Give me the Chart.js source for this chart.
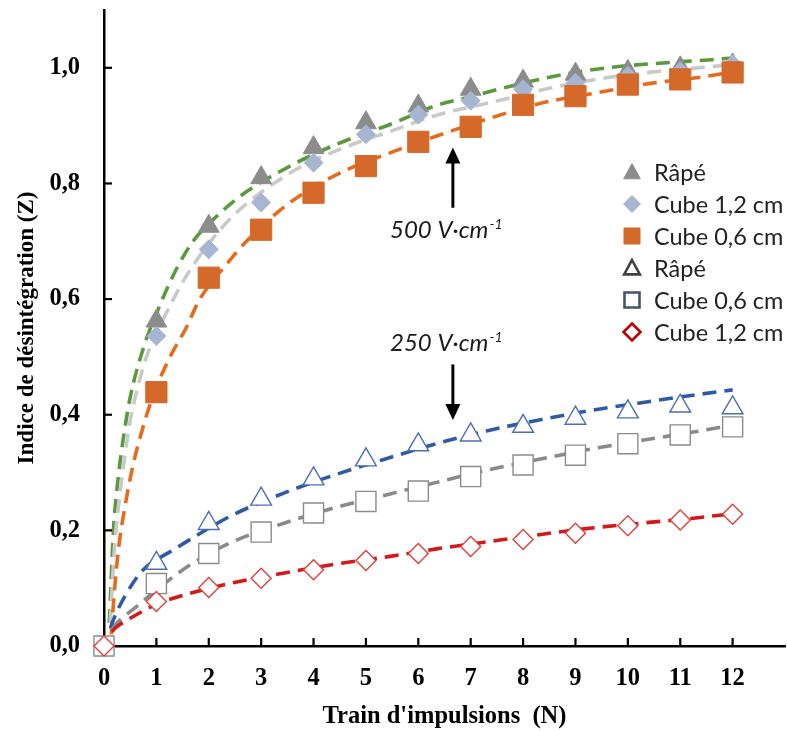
<!DOCTYPE html>
<html><head><meta charset="utf-8">
<script src="https://cdn.jsdelivr.net/npm/chart.js@4.4.1/dist/chart.umd.min.js"></script>
<style>html,body{margin:0;padding:0;background:#fff;}#wrap{width:787px;height:731px;}</style>
</head><body><div id="wrap"><canvas id="c" width="787" height="731"></canvas></div>
<script>
// ---- data ----
const N = [0,1,2,3,4,5,6,7,8,9,10,11,12];
const xTicks = [0,1,2,3,4,5,6,7,8,9,10,11,12];
const yTicks = [0,0.2,0.4,0.6,0.8,1.0];

// 500 V/cm
const rape500    = [null,0.562,0.726,0.81,0.862,0.905,0.934,0.963,0.977,0.989,0.994,1.0,1.005];
const cube12_500 = [null,0.536,0.686,0.767,0.836,0.885,0.919,0.943,0.963,0.974,0.986,0.994,1.006];
const cube06_500 = [null,0.439,0.637,0.72,0.784,0.83,0.872,0.898,0.936,0.951,0.971,0.98,0.992];
// 250 V/cm
const rape250    = [null,0.143,0.212,0.254,0.289,0.322,0.348,0.365,0.38,0.394,0.405,0.415,0.412];
const cube06_250 = [0,0.108,0.16,0.197,0.23,0.25,0.268,0.293,0.313,0.33,0.35,0.365,0.379];
const cube12_250 = [0,0.077,0.101,0.117,0.132,0.148,0.16,0.172,0.184,0.195,0.208,0.218,0.228];

// fitted trend curves
const fitX_rape500 = [0.1,0.13,0.18,0.27,0.37,0.5,0.75,1,1.4,1.7,2,2.6,3.55,4.5,5.46,6.35,7,7.62,8.57,9.6,10.6,11.6,12];
const fitY_rape500 = [0.04,0.1,0.2,0.29,0.36,0.43,0.515,0.575,0.655,0.7,0.73,0.778,0.83,0.87,0.902,0.935,0.95,0.965,0.985,1.0,1.008,1.014,1.017];
const fitX_cube12_500 = [0.12,0.2,0.3,0.4,0.5,0.65,0.81,1,1.2,1.64,2.4,3.55,4.5,5.46,6.35,7.62,8.57,9.6,10.6,11.7,12];
const fitY_cube12_500 = [0.04,0.17,0.26,0.33,0.39,0.45,0.5,0.54,0.578,0.65,0.738,0.818,0.859,0.89,0.918,0.945,0.966,0.983,0.994,1.003,1.006];
const fitX_cube06_500 = [0.14,0.19,0.28,0.4,0.56,0.75,0.91,1.1,1.3,1.55,1.83,2.31,2.72,3.55,4.5,5.46,6.35,7.34,8.3,9.3,10.5,11.4,12];
const fitY_cube06_500 = [0.02,0.085,0.17,0.241,0.315,0.38,0.426,0.469,0.507,0.547,0.6,0.657,0.7,0.767,0.818,0.853,0.882,0.912,0.938,0.955,0.974,0.984,0.993];
const fitX_rape250 = [0.12,0.2,0.43,0.75,1.32,1.64,2.4,3.42,4.44,5.46,6.35,7.3,8.26,9.2,10.2,11.1,12];
const fitY_rape250 = [0.03,0.05,0.091,0.132,0.166,0.184,0.224,0.264,0.297,0.326,0.35,0.372,0.39,0.406,0.42,0.432,0.443];
const fitX_cube06_250 = [0.15,0.24,0.62,1,1.64,2.4,3.42,4.44,5.46,6.35,7.3,8.26,9.2,10.36,11.25,12];
const fitY_cube06_250 = [0.028,0.039,0.068,0.097,0.14,0.178,0.212,0.24,0.263,0.283,0.304,0.322,0.339,0.357,0.37,0.382];
const fitX_cube12_250 = [0.15,0.24,0.56,1,1.64,2.4,3.42,4.44,5.46,6.35,7.3,8.26,9.2,10.2,11.25,12];
const fitY_cube12_250 = [0.025,0.033,0.051,0.072,0.091,0.108,0.126,0.142,0.155,0.168,0.18,0.192,0.203,0.212,0.221,0.229];

const legendLabels = ['Râpé','Cube 1,2 cm','Cube 0,6 cm','Râpé','Cube 0,6 cm','Cube 1,2 cm'];
const xTitle = "Train d'impulsions  (N)";
const yTitle = 'Indice de désintégration (Z)';
const note500 = '500 V·cm';
const note250 = '250 V·cm';
const noteSup = '-1';

// ---- helpers ----
const pts = (xs, ys) => xs.map((x,i)=>({x:x,y:ys[i]})).filter(p=>p.y!==null);
function fitLine(xs, ys, color, order){
  return {type:'line', data:pts(xs,ys), borderColor:color, borderWidth:3.6, borderDash:[14,8],
    pointRadius:0, fill:false, cubicInterpolationMode:'monotone', order:order, showLine:true};
}
function markers(ys, style, r, fillC, strokeC, bw, order){
  return {type:'scatter', data:pts(N,ys), pointStyle:style, pointRadius:r, pointHoverRadius:r,
    backgroundColor:fillC, borderColor:strokeC, pointBorderWidth:bw, borderWidth:bw, showLine:false, clip:false, order:order};
}

const datasets = [
  markers(cube12_250,'rectRot',10,'#ffffff','#e0403c',1.4,1),
  markers(cube06_250,'rect',14.2,'#ffffff','#8c8c8c',1.4,2),
  markers(rape250,'triangle',12,'#ffffff','#4a6fb5',1.4,3),
  markers(cube06_500,'rect',15,'#d4692a','#d4692a',1,4),
  markers(cube12_500,'rectRot',9.5,'#a7b6d0','#a7b6d0',1,5),
  markers(rape500,'triangle',12,'#8c8c8c','#8c8c8c',1,6),
  fitLine(fitX_cube12_250, fitY_cube12_250, '#d11a1a', 7),
  fitLine(fitX_cube06_250, fitY_cube06_250, '#8a8a8a', 8),
  fitLine(fitX_rape250, fitY_rape250, '#2e5aa6', 9),
  fitLine(fitX_cube06_500, fitY_cube06_500, '#e46c1c', 10),
  fitLine(fitX_cube12_500, fitY_cube12_500, '#c9c9c9', 11),
  fitLine(fitX_rape500, fitY_rape500, '#5b9a3c', 12)
];

const legendItems = [
  {style:'triangle', size:8.5, fill:'#8c8c8c', stroke:'#8c8c8c', bw:1},
  {style:'diamond', size:8.5, fill:'#a7b6d0', stroke:'#a7b6d0', bw:1},
  {style:'square', size:8, fill:'#d4692a', stroke:'#d4692a', bw:1},
  {style:'triangle', size:8, fill:'#ffffff', stroke:'#404040', bw:2.6},
  {style:'square', size:7.5, fill:'#ffffff', stroke:'#44546a', bw:2.6},
  {style:'diamond', size:8.5, fill:'#ffffff', stroke:'#c00000', bw:2.6}
];

function shape(ctx, style, x, y, s){
  ctx.beginPath();
  if(style==='triangle'){ ctx.moveTo(x, y-s); ctx.lineTo(x+s*0.98, y+s*0.8); ctx.lineTo(x-s*0.98, y+s*0.8); ctx.closePath(); }
  else if(style==='diamond'){ ctx.moveTo(x, y-s); ctx.lineTo(x+s, y); ctx.lineTo(x, y+s); ctx.lineTo(x-s, y); ctx.closePath(); }
  else { ctx.rect(x-s, y-s, 2*s, 2*s); }
}

const decor = {
  id:'decor',
  afterDraw(chart){
    const ctx = chart.ctx, xs = chart.scales.x, ys = chart.scales.y;
    ctx.save();
    // inward tick marks
    ctx.strokeStyle = '#000'; ctx.lineWidth = 2.2;
    xTicks.forEach(v=>{ if(v===0) return; const px = xs.getPixelForValue(v);
      ctx.beginPath(); ctx.moveTo(px, ys.bottom); ctx.lineTo(px, ys.bottom-8); ctx.stroke(); });
    yTicks.forEach(v=>{ if(v===0) return; const py = ys.getPixelForValue(v);
      ctx.beginPath(); ctx.moveTo(xs.left, py); ctx.lineTo(xs.left+8, py); ctx.stroke(); });

    // arrows
    function arrow(xv, y1v, y2v){
      const px = xs.getPixelForValue(xv), p1 = ys.getPixelForValue(y1v), p2 = ys.getPixelForValue(y2v);
      const dir = p2 > p1 ? 1 : -1;
      ctx.strokeStyle='#000'; ctx.fillStyle='#000'; ctx.lineWidth=3;
      ctx.beginPath(); ctx.moveTo(px, p1); ctx.lineTo(px, p2 - dir*14); ctx.stroke();
      ctx.beginPath(); ctx.moveTo(px, p2); ctx.lineTo(px-7.5, p2-dir*16); ctx.lineTo(px+7.5, p2-dir*16); ctx.closePath(); ctx.fill();
    }
    arrow(6.66, 0.758, 0.862);
    arrow(6.66, 0.487, 0.391);
    function note(text, xv, yv){
      const px = xs.getPixelForValue(xv), py = ys.getPixelForValue(yv);
      ctx.fillStyle='#1a1a1a'; ctx.textBaseline='alphabetic'; ctx.textAlign='left';
      ctx.font = 'italic 24px Lato';
      ctx.fillText(text, px, py);
      const w = ctx.measureText(text).width;
      ctx.font = 'italic 14px Lato';
      ctx.fillText(noteSup, px + w + 1, py - 9);
    }
    note(note500, 5.46, 0.7065);
    note(note250, 5.46, 0.5096);

    // legend
    const lx = 632, tx = 654, y0 = 172, dy = 32;
    legendItems.forEach((it,i)=>{
      const y = y0 + i*dy;
      ctx.fillStyle = it.fill; ctx.strokeStyle = it.stroke; ctx.lineWidth = it.bw; ctx.lineJoin='miter';
      shape(ctx, it.style, lx, y, it.size); ctx.fill(); ctx.stroke();
      ctx.fillStyle = '#222222'; ctx.font = '23.5px Lato'; ctx.textBaseline='middle'; ctx.textAlign='left';
      ctx.fillText(legendLabels[i], tx, y+1);
    });
    ctx.restore();
  }
};

new Chart(document.getElementById('c'), {
  type:'scatter',
  data:{datasets:datasets},
  options:{
    responsive:false, animation:false, devicePixelRatio:1,
    layout:{autoPadding:false, padding:{top:10, right:2, left:0, bottom:0}},
    plugins:{legend:{display:false}, tooltip:{enabled:false}},
    scales:{
      x:{type:'linear', min:0, max:13,
        grid:{display:false}, border:{display:true, color:'#000', width:2.5},
        ticks:{stepSize:1, includeBounds:false, padding:10, color:'#000', maxRotation:0, autoSkip:false,
          font:{family:'Liberation Serif', size:24.5, weight:'bold'},
          callback:(v)=> xTicks.includes(v) ? String(v) : ''},
        title:{display:true, text:xTitle, color:'#000', font:{family:'Liberation Serif', size:24.5, weight:'bold'}, padding:{top:0,bottom:0}},
        afterFit:(s)=>{ s.height = 85; s.paddingLeft = 0; s.paddingRight = 0; }
      },
      y:{type:'linear', min:0, max:1.1,
        grid:{display:false}, border:{display:true, color:'#000', width:2.5},
        ticks:{stepSize:0.2, includeBounds:false, padding:16, color:'#000',
          font:{family:'Liberation Serif', size:24.5, weight:'bold'},
          callback:(v)=>{ const m = yTicks.find(t=>Math.abs(t-v)<1e-6); return m===undefined ? '' : m.toFixed(1).replace('.',','); }},
        title:{display:true, text:yTitle, color:'#000', font:{family:'Liberation Serif', size:23, weight:'bold'}, padding:{top:13,bottom:0}},
        afterFit:(s)=>{ s.width = 104; s.paddingTop = 0; s.paddingBottom = 0; }
      }
    }
  },
  plugins:[decor]
});
</script></body></html>
